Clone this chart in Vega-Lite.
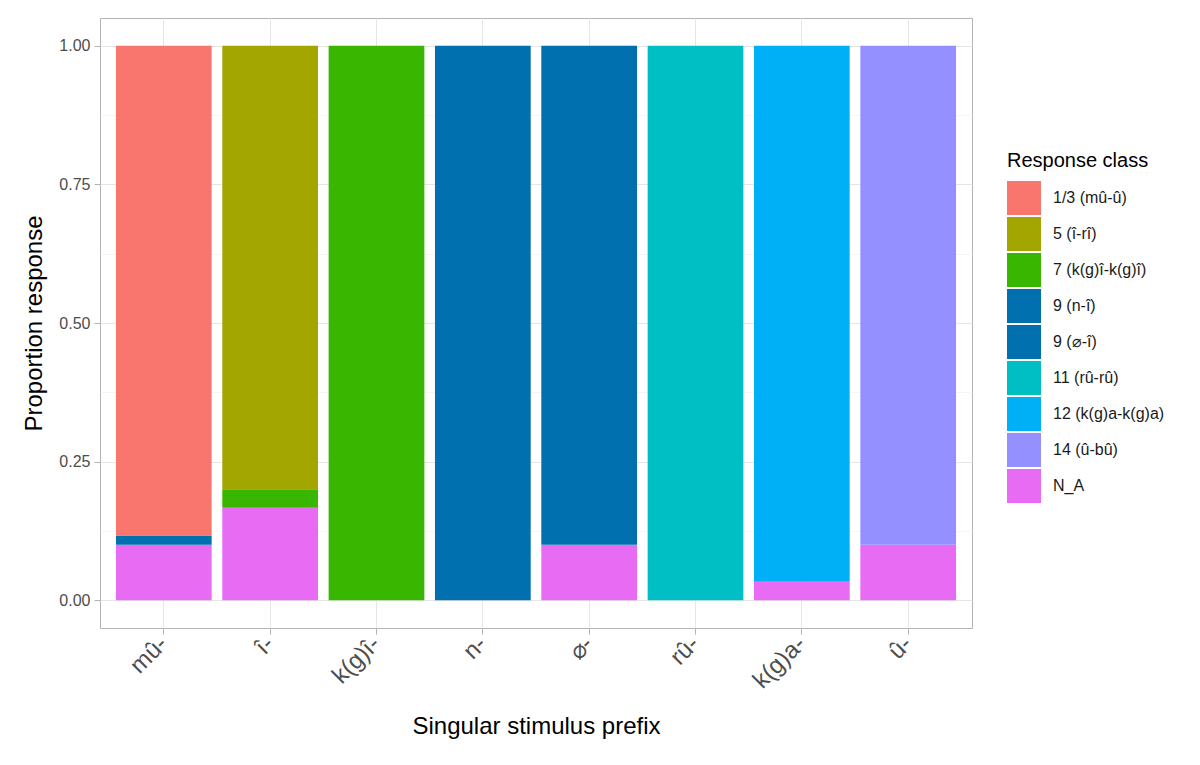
{
  "$schema": "https://vega.github.io/schema/vega-lite/v6.json",
  "width": 872,
  "height": 610,
  "autosize": "none",
  "padding": {"left": 100, "top": 18, "right": 228, "bottom": 137},
  "background": "white",
  "config": {
    "font": "Liberation Sans",
    "view": {"stroke": "#B3B3B3", "strokeWidth": 1},
    "axis": {
      "domain": false,
      "gridColor": "#E6E6E6",
      "gridWidth": 1,
      "tickColor": "#B3B3B3",
      "tickSize": 6,
      "labelColor": "#4D4D4D",
      "labelFont": "Liberation Sans",
      "titleFont": "Liberation Sans",
      "titleFontWeight": "normal",
      "titleColor": "black"
    }
  },
  "data": {
    "values": [
      {"prefix": "mû-", "class": "N_A", "prop": 0.1},
      {"prefix": "mû-", "class": "9 (n-î)", "prop": 0.0167},
      {"prefix": "mû-", "class": "1/3 (mû-û)", "prop": 0.8833},
      {"prefix": "î-", "class": "N_A", "prop": 0.1667},
      {"prefix": "î-", "class": "7 (k(g)î-k(g)î)", "prop": 0.0333},
      {"prefix": "î-", "class": "5 (î-rî)", "prop": 0.8},
      {"prefix": "k(g)î-", "class": "7 (k(g)î-k(g)î)", "prop": 1.0},
      {"prefix": "n-", "class": "9 (n-î)", "prop": 1.0},
      {"prefix": "⌀-", "class": "N_A", "prop": 0.1},
      {"prefix": "⌀-", "class": "9 (⌀-î)", "prop": 0.9},
      {"prefix": "rû-", "class": "11 (rû-rû)", "prop": 1.0},
      {"prefix": "k(g)a-", "class": "N_A", "prop": 0.0333},
      {"prefix": "k(g)a-", "class": "12 (k(g)a-k(g)a)", "prop": 0.9667},
      {"prefix": "û-", "class": "N_A", "prop": 0.1},
      {"prefix": "û-", "class": "14 (û-bû)", "prop": 0.9}
    ]
  },
  "layer": [
    {
      "mark": {"type": "bar", "strokeWidth": 0},
      "encoding": {
        "x": {
          "field": "prefix",
          "type": "nominal",
          "sort": ["mû-", "î-", "k(g)î-", "n-", "⌀-", "rû-", "k(g)a-", "û-"],
          "scale": {"paddingInner": 0.1, "paddingOuter": 0.15},
          "title": "Singular stimulus prefix",
          "axis": {
            "labelAngle": -45,
            "labelAlign": "right",
            "labelBaseline": "middle",
            "labelFontSize": 24,
            "labelPadding": 6,
            "grid": true,
            "bandPosition": 0.5,
            "titleFontSize": 24,
            "titlePadding": 22
          }
        },
        "y": {
          "field": "prop",
          "type": "quantitative",
          "stack": "zero",
          "scale": {"domain": [-0.05, 1.05], "nice": false, "zero": false},
          "title": "Proportion response",
          "axis": {
            "values": [0, 0.25, 0.5, 0.75, 1],
            "format": ".2f",
            "labelFontSize": 16,
            "labelPadding": 4,
            "titleFontSize": 24,
            "titlePadding": 12
          }
        },
        "order": {"field": "class", "sort": "descending"},
        "color": {
          "field": "class",
          "type": "nominal",
          "title": "Response class",
          "scale": {
            "domain": ["1/3 (mû-û)", "5 (î-rî)", "7 (k(g)î-k(g)î)", "9 (n-î)", "9 (⌀-î)", "11 (rû-rû)", "12 (k(g)a-k(g)a)", "14 (û-bû)", "N_A"],
            "range": ["#F8766D", "#A3A500", "#39B600", "#0070AF", "#0070AF", "#00BFC4", "#00B0F6", "#9590FF", "#E76BF3"]
          },
          "legend": {
            "orient": "none",
            "legendX": 907,
            "legendY": 133,
            "symbolType": "square",
            "symbolSize": 1156,
            "symbolStrokeWidth": 0,
            "symbolOpacity": 1,
            "labelFontSize": 16,
            "labelColor": "#1A1A1A",
            "labelOffset": 12,
            "titleFontSize": 20,
            "titleFontWeight": "normal",
            "titleColor": "black",
            "titlePadding": 10,
            "rowPadding": 2
          }
        }
      }
    },
    {
      "mark": {"type": "bar", "opacity": 0},
      "encoding": {
        "x": {"field": "prefix", "type": "nominal", "sort": ["mû-", "î-", "k(g)î-", "n-", "⌀-", "rû-", "k(g)a-", "û-"]},
        "y": {
          "field": "prop",
          "type": "quantitative",
          "aggregate": "min",
          "axis": {
            "orient": "right",
            "values": [0.125, 0.375, 0.625, 0.875],
            "labels": false,
            "ticks": false,
            "domain": false,
            "title": null,
            "grid": true,
            "gridColor": "#F0F0F0",
            "gridWidth": 0.7
          }
        }
      }
    }
  ],
  "resolve": {"axis": {"y": "independent"}}
}
